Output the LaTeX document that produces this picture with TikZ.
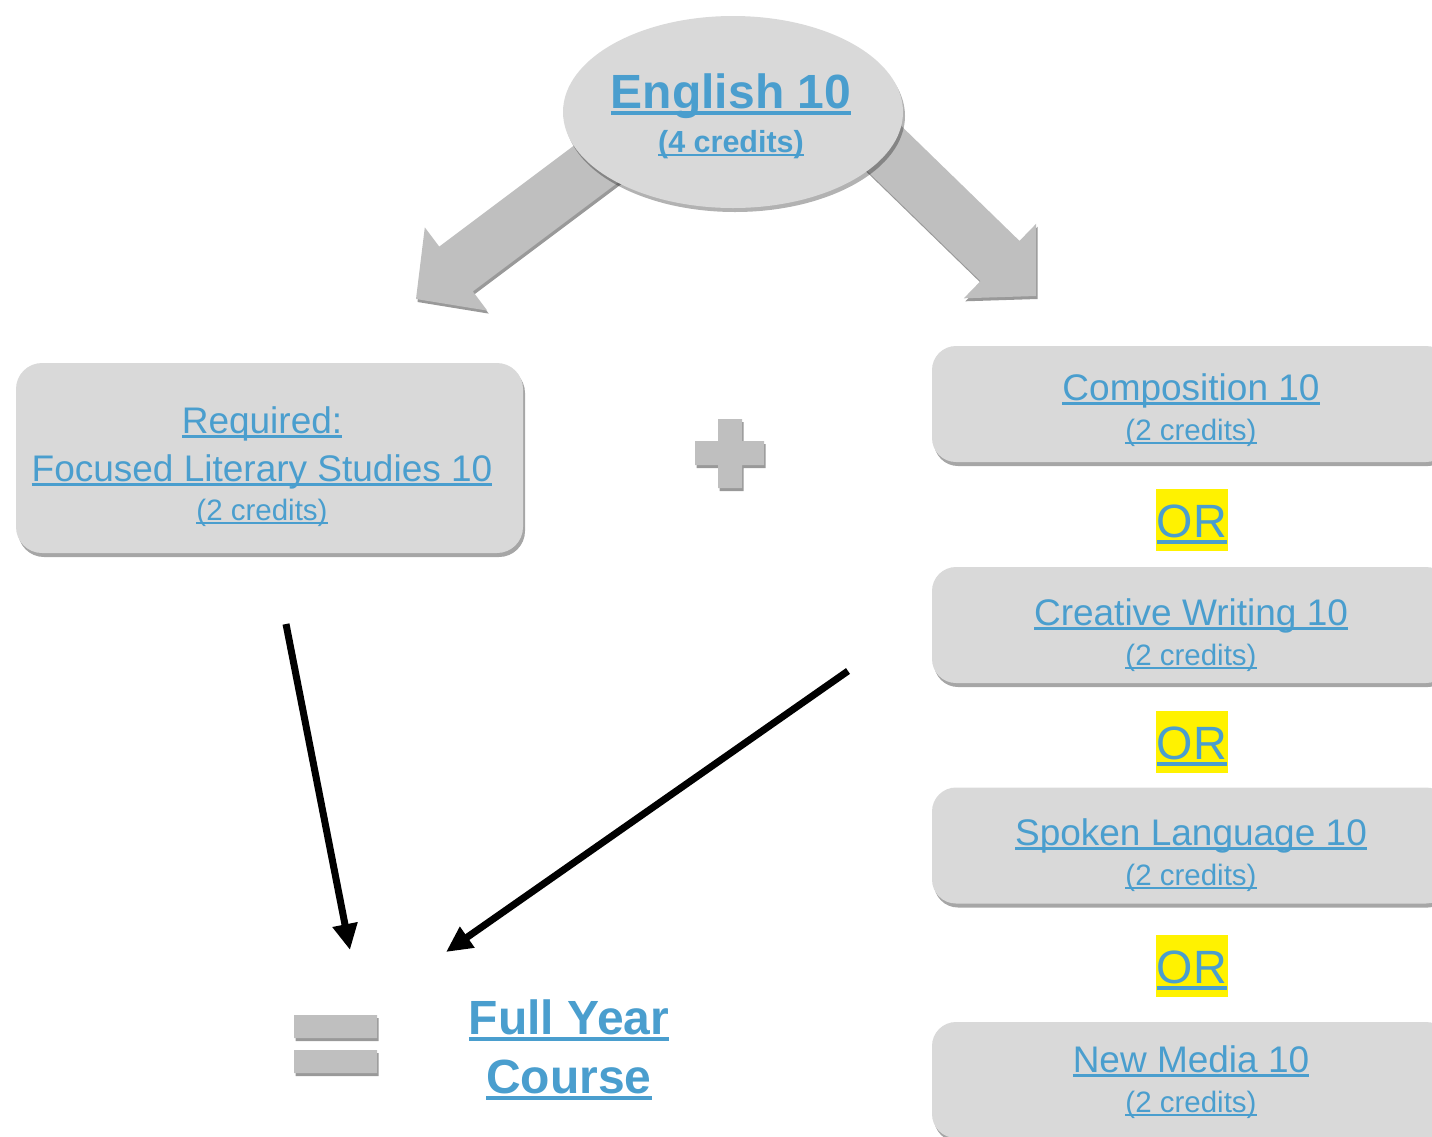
\documentclass[tikz,border=0pt]{standalone}
\usepackage{fontspec}
\setmainfont{Liberation Sans}
\usetikzlibrary{shapes.geometric,shadows,arrows.meta}
\definecolor{linkBlue}{RGB}{74,158,206}
\definecolor{boxGray}{RGB}{217,217,217}
\definecolor{arrowGray}{RGB}{191,191,191}
\newcommand{\linktext}[1]{\setbox0=\hbox{#1}\rlap{\rule[-0.14em]{\wd0}{0.075em}}\box0}

\begin{document}
\begin{tikzpicture}
[x=1pt,y=-1pt,
  boxDecorate/.style={shape=rectangle,rounded corners=26pt,fill=boxGray,inner sep=0pt,
    drop shadow={shadow xshift=2pt,shadow yshift=-4pt,fill=black,opacity=0.35}},
  blockDecorate/.style={fill=arrowGray,
    drop shadow={shadow xshift=1.5pt,shadow yshift=-3pt,fill=black,opacity=0.4}},
  titleDecorate/.style={anchor=base,inner sep=0pt,text=linkBlue,font=\fontsize{37}{44}\selectfont},
  creditDecorate/.style={anchor=base,inner sep=0pt,text=linkBlue,font=\fontsize{29.5}{35}\selectfont},
  boldDecorate/.style={anchor=base,inner sep=0pt,text=linkBlue,font=\bfseries\fontsize{48}{56}\selectfont},
  orDecorate/.style={anchor=base,fill=yellow,inner sep=0pt,inner xsep=1pt,text height=48pt,
    text depth=14pt,text=linkBlue,font=\fontsize{46.7}{56}\selectfont},
  lineDecorate/.style={line width=7pt,-{Triangle[length=26pt,width=24pt]}}]
\useasboundingbox (0,0) rectangle (1432,1136);
\clip (0,0) rectangle (1432,1136);
%% big gray arrows
\fill[blockDecorate] (624.8,177.4) -- (472.8,291.4) -- (487.2,310.6) -- (416,299)
  -- (424.8,227.4) -- (439.2,246.6) -- (591.2,132.6) -- cycle;
\fill[blockDecorate] (883.3,108.5) -- (1019.5,240.9) -- (1036.2,223.7) -- (1036,296)
  -- (963.8,298.3) -- (980.5,281.1) -- (844.3,148.7) -- cycle;
%% top course
\node (english) at (733,112) [shape=ellipse,minimum width=340pt,minimum height=192pt,
  fill=boxGray,inner sep=0pt,
  drop shadow={shadow xshift=2pt,shadow yshift=-4pt,fill=black,opacity=0.3}] {};
\node (englishTitle) at (731,108) [boldDecorate] {\linktext{English 10}};
\node (englishCredit) at (731,152) [boldDecorate,font=\bfseries\fontsize{30.5}{36}\selectfont]
  {\linktext{(4 credits)}};
%% required course
\node (lit) at (269.5,458) [boxDecorate,minimum width=507pt,minimum height=190pt] {};
\node (litHead) at (262,433) [titleDecorate] {\linktext{Required:}};
\node (litTitle) at (262,481) [titleDecorate] {\linktext{Focused Literary Studies 10}};
\node (litCredit) at (262,520) [creditDecorate] {\linktext{(2 credits)}};
%% choice courses
\foreach \boxname/\yc/\yt/\title in {
  comp/404/400/Composition 10,
  creative/625/625/Creative Writing 10,
  spoken/845.5/845/Spoken Language 10,
  media/1080/1072/New Media 10}
{
  \node (\boxname) at (1191,\yc) [boxDecorate,rounded corners=24pt,
    minimum width=518pt,minimum height=116pt] {};
  \node (\boxname Title) at (1191,\yt) [titleDecorate] {\linktext{\title}};
  \node (\boxname Credit) at (1191,\yt+40) [creditDecorate] {\linktext{(2 credits)}};
}
\foreach \orname/\y in {or1/537, or2/759, or3/983}
{
  \node (\orname) at (1192,\y) [orDecorate] {\linktext{OR}};
}
%% plus and equals
\fill[blockDecorate] (718,419) -- (742,419) -- (742,441) -- (764,441) -- (764,465)
  -- (742,465) -- (742,488) -- (718,488) -- (718,465) -- (695,465) -- (695,441)
  -- (718,441) -- cycle;
\fill[blockDecorate] (294,1015) rectangle (377,1038) (294,1050) rectangle (377,1073);
\node (fullYear) at (569,1034) [boldDecorate] {\linktext{Full Year}};
\node (course) at (569,1093) [boldDecorate] {\linktext{Course}};
%% black arrows
\coordinate (litFoot) at (286,624);
\coordinate (sumLeft) at (350,950);
\coordinate (optFoot) at (848,671);
\coordinate (sumRight) at (446,952);
\path
  (litFoot) edge[lineDecorate] (sumLeft)
  (optFoot) edge[lineDecorate] (sumRight);
\end{tikzpicture}
\end{document}
